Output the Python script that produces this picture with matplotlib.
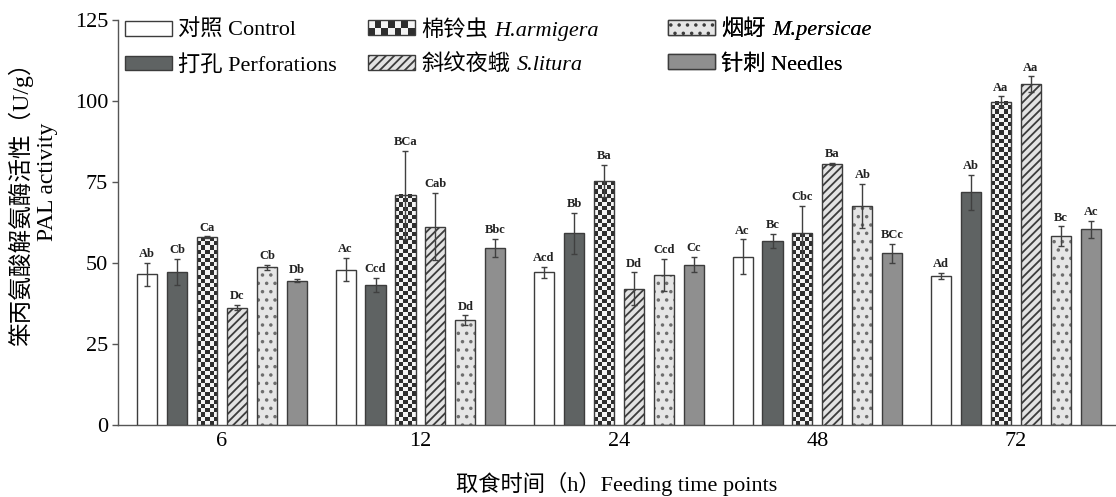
import numpy as np
import matplotlib
matplotlib.use('Agg')
import matplotlib.pyplot as plt
from matplotlib.patches import Patch, Rectangle
from matplotlib.colors import ListedColormap
from matplotlib.legend_handler import HandlerBase
from matplotlib.offsetbox import TextArea

plt.rcParams['font.family'] = ['Liberation Serif', 'Noto Sans CJK SC']
plt.rcParams['hatch.linewidth'] = 1.3

# feeding time points (h)
groups = ['6', '12', '24', '48', '72']

# PAL activity (U/g) per treatment
control = [46.5, 47.9, 47.1, 51.9, 46.0]
perforations = [47.3, 43.1, 59.2, 56.8, 71.9]
armigera = [57.9, 71.0, 75.3, 59.2, 99.7]
litura = [36.2, 61.2, 42.0, 80.6, 105.2]
persicae = [48.7, 32.4, 46.3, 67.6, 58.3]
needles = [44.5, 54.7, 49.5, 53.0, 60.4]

control_err = [3.5, 3.6, 1.8, 5.4, 0.9]
perforations_err = [4.0, 2.2, 6.3, 2.1, 5.4]
armigera_err = [0.3, 13.6, 4.9, 8.4, 1.7]
litura_err = [0.8, 10.4, 5.1, 0.3, 2.4]
persicae_err = [0.8, 1.4, 5.0, 6.7, 3.0]
needles_err = [0.5, 2.7, 2.3, 3.0, 2.6]

control_sig = ['Ab', 'Ac', 'Acd', 'Ac', 'Ad']
perforations_sig = ['Cb', 'Ccd', 'Bb', 'Bc', 'Ab']
armigera_sig = ['Ca', 'BCa', 'Ba', 'Cbc', 'Aa']
litura_sig = ['Dc', 'Cab', 'Dd', 'Ba', 'Aa']
persicae_sig = ['Cb', 'Dd', 'Ccd', 'Ab', 'Bc']
needles_sig = ['Db', 'Bbc', 'Cc', 'BCc', 'Ac']

edge = '#3c3c3c'
dark_chk = '#2e2e2e'
light_chk = '#f4f4f4'
dot_col = '#6e6e6e'

series = [
    (control, control_err, control_sig, 'plain', dict(facecolor='white')),
    (perforations, perforations_err, perforations_sig, 'plain', dict(facecolor='#5f6363')),
    (armigera, armigera_err, armigera_sig, 'checker', None),
    (litura, litura_err, litura_sig, 'plain', dict(facecolor='#e3e3e3', hatch='////')),
    (persicae, persicae_err, persicae_sig, 'dots', dict(facecolor='#e6e6e6', hatch='..')),
    (needles, needles_err, needles_sig, 'plain', dict(facecolor='#8f8f8f')),
]

fig = plt.figure(figsize=(11.16, 4.97), dpi=100)
ax = fig.add_axes([0.1057, 0.1449, 0.8943, 0.8149])

x = np.arange(len(groups))
step = 0.151
width = 0.101

for i, (vals, errs, sigs, kind, style) in enumerate(series):
    pos = x + (i - 2.5) * step
    if kind == 'checker':
        # checkerboard fill drawn as small images inside each bar
        cmap = ListedColormap([light_chk, dark_chk])
        for p, v in zip(pos, vals):
            nrows = max(1, int(round(v / 1.3)))
            pat = np.add.outer(np.arange(nrows), np.arange(5)) % 2
            ax.imshow(pat, extent=[p - width / 2, p + width / 2, 0, v], cmap=cmap,
                      aspect='auto', interpolation='nearest', origin='lower', zorder=2)
        ax.bar(pos, vals, width, facecolor='none', edgecolor=edge, linewidth=1, zorder=3)
    elif kind == 'dots':
        ax.bar(pos, vals, width, edgecolor=dot_col, linewidth=0, zorder=2, **style)
        ax.bar(pos, vals, width, facecolor='none', edgecolor=edge, linewidth=1, zorder=3)
    else:
        ax.bar(pos, vals, width, edgecolor=edge, linewidth=1, zorder=3, **style)
    ax.errorbar(pos, vals, yerr=errs, fmt='none', ecolor='#404040', elinewidth=1,
                capsize=2.5, capthick=1, zorder=4)
    for p, v, e, s in zip(pos, vals, errs, sigs):
        ax.annotate(s, (p, v + e), xytext=(0, 2), textcoords='offset points',
                    ha='center', va='bottom', fontsize=9, fontweight='bold', color='#222222')

ax.set_xlim(-0.524, 4.504)
ax.set_ylim(0, 125)
ax.set_xticks(x)
ax.set_xticklabels(groups)
ax.set_yticks([0, 25, 50, 75, 100, 125])
ax.tick_params(axis='x', length=0, labelsize=16, pad=5)
ax.tick_params(axis='y', length=4, width=1, labelsize=16, color='#555555', pad=3)
for s in ['top', 'right']:
    ax.spines[s].set_visible(False)
for s in ['left', 'bottom']:
    ax.spines[s].set_color('#555555')
    ax.spines[s].set_linewidth(1)

ax.set_xlabel('取食时间（h）Feeding time points', fontsize=16, labelpad=15)
fig.text(21 / 1116, 1 - 198 / 497, '笨丙氨酸解氨酶活性（U/g）', rotation=90,
         ha='center', va='center', fontsize=17)
fig.text(47 / 1116, 1 - 182 / 497, 'PAL activity', rotation=90,
         ha='center', va='center', fontsize=17)


class HandlerChecker(HandlerBase):
    def create_artists(self, legend, orig_handle, xdescent, ydescent,
                       width, height, fontsize, trans):
        arts = []
        nr, nc = 2, 7
        cw, ch = width / nc, height / nr
        for r in range(nr):
            for c in range(nc):
                col = dark_chk if (r + c) % 2 == 0 else light_chk
                arts.append(Rectangle((-xdescent + c * cw, -ydescent + r * ch), cw, ch,
                                      facecolor=col, edgecolor='none', transform=trans))
        arts.append(Rectangle((-xdescent, -ydescent), width, height, facecolor='none',
                              edgecolor=edge, lw=1, transform=trans))
        return arts


chk_handle = Patch(facecolor='white', edgecolor=edge)
columns = [
    ([Patch(facecolor='white', edgecolor=edge), Patch(facecolor='#5f6363', edgecolor=edge)],
     ['对照 Control', '打孔 Perforations'], 125),
    ([chk_handle, Patch(facecolor='#e3e3e3', edgecolor=edge, hatch='////')],
     ['棉铃虫', '斜纹夜蛾'], 368),
    ([Patch(facecolor='#e6e6e6', edgecolor=edge, hatch='..'), Patch(facecolor='#8f8f8f', edgecolor=edge)],
     ['烟蚜', '针刺 Needles'], 668),
]
italic = {'棉铃虫': 'H.armigera', '斜纹夜蛾': 'S.litura', '烟蚜': 'M.persicae'}

for hs, ls, px in columns:
    leg = ax.legend(hs, ls, loc='upper left', bbox_to_anchor=((px - 118) / 998, 1.0),
                    frameon=False, fontsize=16, handlelength=2.1, handleheight=0.65,
                    handletextpad=0.3, labelspacing=0.62, borderpad=0, borderaxespad=0,
                    handler_map={chk_handle: HandlerChecker()})
    # append italic species names next to the Chinese names
    for col in leg._legend_handle_box.get_children():
        for item in col.get_children():
            name = item.get_children()[1].get_text()
            if name in italic:
                extra = TextArea(italic[name], textprops=dict(fontstyle='italic', fontsize=16,
                                                              fontfamily=['Liberation Serif']))
                extra.set_figure(fig)
                item.get_children().append(extra)
    ax.add_artist(leg)

fig.savefig('out.png', dpi=100)
